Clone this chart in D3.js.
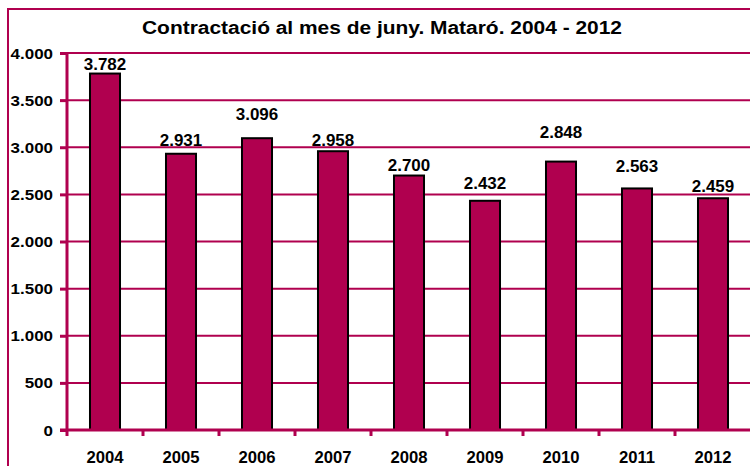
<!DOCTYPE html>
<html>
<head>
<meta charset="utf-8">
<script src="https://cdn.jsdelivr.net/npm/d3@7"></script>
<style>
  body { margin: 0; background: #fff; }
  text { font-family: "Liberation Sans", Arial, sans-serif; font-weight: bold; fill: #000; }
</style>
</head>
<body>
<div id="chart"></div>
<script>
// Data
const years = ["2004", "2005", "2006", "2007", "2008", "2009", "2010", "2011", "2012"];
const contracts = [3782, 2931, 3096, 2958, 2700, 2432, 2848, 2563, 2459];
const yTicks = [0, 500, 1000, 1500, 2000, 2500, 3000, 3500, 4000];
const chartTitle = "Contractació al mes de juny. Mataró. 2004 - 2012";

// gap in px between value label and top of bar (labels were placed by hand)
const labelGap = [3, 7, 17, 4, 4, 11, 23, 15, 5];

const magenta = "#B0004F";
const width = 750, height = 466;
const plot = { left: 67, right: 751, top: 53, bottom: 430 };

// the original font is a bit wider than Liberation Sans, stretch text horizontally
function stretch(sel, k) {
    sel.each(function() {
        const len = this.getComputedTextLength();
        d3.select(this)
            .attr("textLength", len * k)
            .attr("lengthAdjust", "spacingAndGlyphs");
    });
}

const svg = d3.select("#chart").append("svg")
    .attr("width", width)
    .attr("height", height);

// Outer frame
svg.append("rect")
    .attr("x", 8)
    .attr("y", 9)
    .attr("width", 800)
    .attr("height", 500)
    .attr("fill", "none")
    .attr("stroke", magenta)
    .attr("stroke-width", 2);

const x = d3.scaleBand()
    .domain(years)
    .range([plot.left, plot.right])
    .paddingInner(0.605)
    .paddingOuter(0.3025);

const y = d3.scaleLinear()
    .domain([0, 4000])
    .range([plot.bottom, plot.top]);

// Gridlines
svg.append("g")
    .selectAll("line")
    .data(yTicks.filter(d => d > 0))
    .enter()
    .append("line")
    .attr("x1", plot.left)
    .attr("x2", plot.right)
    .attr("y1", d => y(d))
    .attr("y2", d => y(d))
    .attr("stroke", magenta)
    .attr("stroke-width", 2);

// Bars
svg.append("g")
    .selectAll("rect")
    .data(contracts)
    .enter()
    .append("rect")
    .attr("x", (d, i) => x(years[i]))
    .attr("y", d => y(d))
    .attr("width", x.bandwidth())
    .attr("height", d => plot.bottom - y(d))
    .attr("fill", magenta)
    .attr("stroke", "#000")
    .attr("stroke-width", 2);

// Value labels
const fmt = d3.formatLocale({ decimal: ",", thousands: ".", grouping: [3], currency: ["", "€"] }).format(",d");
svg.append("g")
    .selectAll("text")
    .data(contracts)
    .enter()
    .append("text")
    .attr("x", (d, i) => x(years[i]) + x.bandwidth() / 2)
    .attr("y", (d, i) => y(d) - labelGap[i] - 1)
    .attr("text-anchor", "middle")
    .style("font-size", "16px")
    .text(d => fmt(d))
    .call(stretch, 1.06);

// Y axis
const yAxis = svg.append("g")
    .attr("transform", `translate(${plot.left},0)`)
    .call(d3.axisLeft(y).tickValues(yTicks).tickSize(7).tickPadding(7).tickFormat(fmt));
yAxis.select(".domain").attr("stroke", magenta).attr("stroke-width", 3)
    .attr("d", `M0,${plot.top}V${plot.bottom + 6}`);
yAxis.selectAll(".tick line").attr("stroke", magenta).attr("stroke-width", 3);
yAxis.selectAll(".tick text")
    .style("font-size", "14.5px")
    .style("font-family", "Liberation Sans, Arial, sans-serif")
    .attr("dy", "0.35em")
    .call(stretch, 1.17);

// X axis
const xAxis = svg.append("g")
    .attr("transform", `translate(0,${plot.bottom})`)
    .call(d3.axisBottom(x).tickSize(0).tickPadding(22));
xAxis.select(".domain").attr("stroke", magenta).attr("stroke-width", 3)
    .attr("d", `M${plot.left - 7},0H${plot.right}`);
xAxis.selectAll(".tick text")
    .style("font-size", "16px")
    .style("font-family", "Liberation Sans, Arial, sans-serif")
    .call(stretch, 1.04);

// ticks between categories
svg.append("g")
    .selectAll("line")
    .data(years.slice(1))
    .enter()
    .append("line")
    .attr("x1", d => x(d) - x.step() * x.paddingInner() / 2)
    .attr("x2", d => x(d) - x.step() * x.paddingInner() / 2)
    .attr("y1", plot.bottom)
    .attr("y2", plot.bottom + 6)
    .attr("stroke", magenta)
    .attr("stroke-width", 3);

// Title
svg.append("text")
    .attr("x", 382)
    .attr("y", 34)
    .attr("text-anchor", "middle")
    .style("font-size", "18px")
    .text(chartTitle)
    .attr("textLength", 480)
    .attr("lengthAdjust", "spacingAndGlyphs");
</script>
</body>
</html>
